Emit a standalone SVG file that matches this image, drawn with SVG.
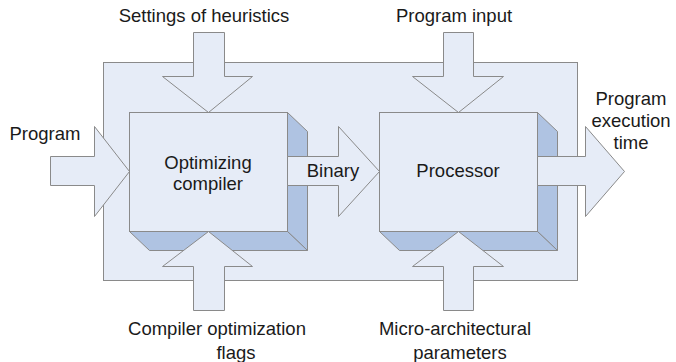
<svg xmlns="http://www.w3.org/2000/svg" width="676" height="362" viewBox="0 0 676 362">
<style>
.f{fill:#e6ecf7;stroke:#8a8a8a;stroke-width:1}
.d{fill:#afc3e2;stroke:#8a8a8a;stroke-width:1;stroke-linejoin:round}
text{font-family:"Liberation Sans",Arial,sans-serif;font-size:18.5px;fill:#1a1a1a;text-anchor:middle}
</style>
<rect width="676" height="362" fill="#ffffff"/>
<g id="system"><rect class="f" x="103.5" y="62.5" width="474" height="218"/></g>
<g id="connectors">
<polygon class="f" points="193.5,32.5 224.5,32.5 224.5,76.5 252.5,76.5 208.5,112.5 162.5,76.5 193.5,76.5"/>
<polygon class="f" points="443.5,32.5 473.5,32.5 473.5,76.5 503.5,76.5 458.5,112.5 412.5,76.5 443.5,76.5"/>
<polygon class="f" points="50.5,156.5 94.5,156.5 94.5,126.5 129.5,171.5 94.5,216.5 94.5,185.5 50.5,185.5"/>
</g>
<g id="compiler">
<polygon class="d" points="287.5,112.5 307.5,131.5 307.5,250.5 287.5,231.5"/>
<polygon class="d" points="129.5,231.5 287.5,231.5 307.5,250.5 149.5,250.5"/>
<rect class="f" x="129.5" y="112.5" width="158" height="119"/>
<text x="208" y="169">Optimizing</text>
<text x="208" y="190">compiler</text>
</g>
<g id="processor">
<polygon class="d" points="537.5,112.5 557.5,131.5 557.5,250.5 537.5,231.5"/>
<polygon class="d" points="379.5,231.5 537.5,231.5 557.5,250.5 399.5,250.5"/>
<rect class="f" x="379.5" y="112.5" width="158" height="119"/>
<text x="458" y="177">Processor</text>
</g>
<g id="connectors2">
<polygon class="f" points="287.5,156.5 338.5,156.5 338.5,126.5 379.5,171.5 338.5,216.5 338.5,185.5 287.5,185.5"/>
<polygon class="f" points="537.5,156.5 585.5,156.5 585.5,126.5 624.5,171.5 585.5,216.5 585.5,185.5 537.5,185.5"/>
<polygon class="f" points="208.5,231.5 252.5,266.5 224.5,266.5 224.5,310.5 193.5,310.5 193.5,266.5 162.5,266.5"/>
<polygon class="f" points="458.5,231.5 503.5,266.5 473.5,266.5 473.5,310.5 443.5,310.5 443.5,266.5 412.5,266.5"/>
</g>
<g id="labels">
<text x="204" y="22">Settings of heuristics</text>
<text x="454" y="22">Program input</text>
<text x="45" y="140">Program</text>
<text x="333" y="177">Binary</text>
<text x="631" y="105">Program</text>
<text x="631" y="127">execution</text>
<text x="631" y="149">time</text>
<text x="217" y="335">Compiler optimization</text>
<text x="236" y="359">flags</text>
<text x="455" y="335">Micro-architectural</text>
<text x="460" y="359">parameters</text>
</g>
</svg>
